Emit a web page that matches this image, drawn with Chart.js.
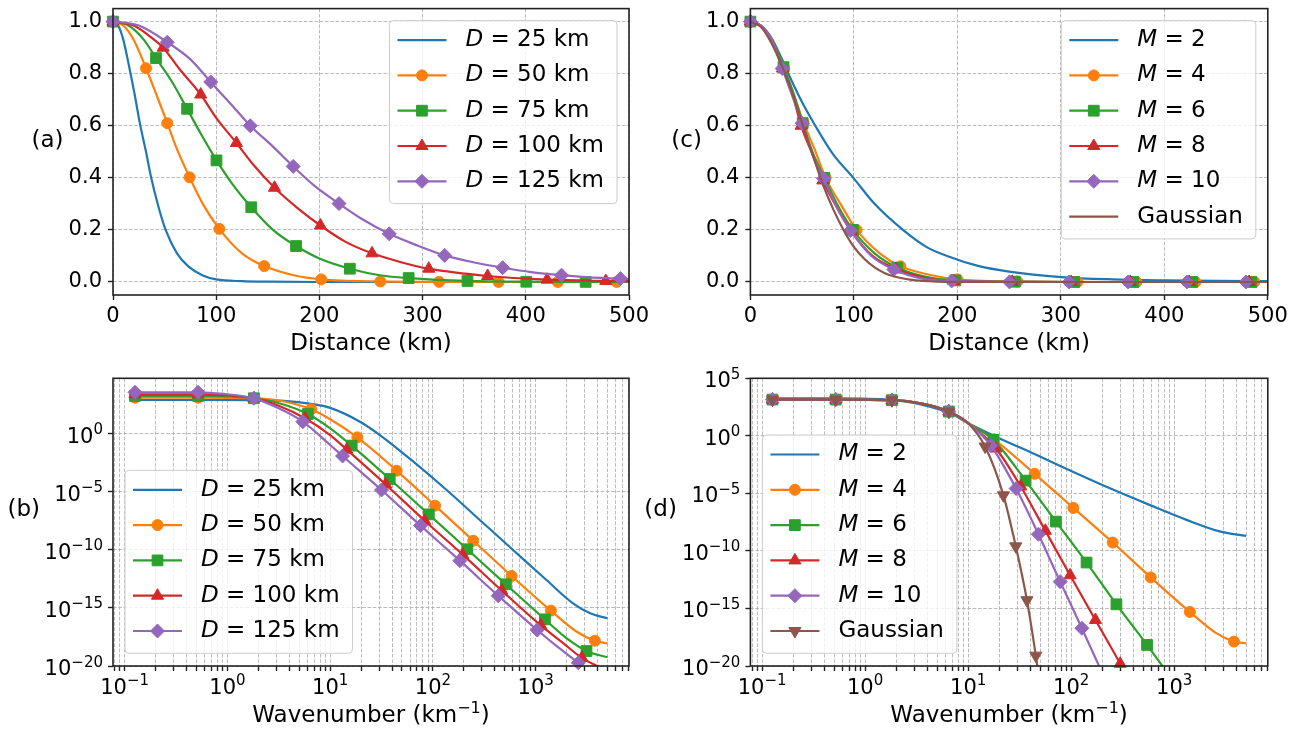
<!DOCTYPE html>
<html><head><meta charset="utf-8">
<script src="https://cdn.jsdelivr.net/npm/chart.js@4.4.1/dist/chart.umd.min.js"></script>
<style>
html,body{margin:0;padding:0;background:#fff;}
body{width:1298px;height:731px;position:relative;overflow:hidden;}
canvas{position:absolute;}
</style></head>
<body>
<canvas id="ca" width="650" height="365" style="left:0;top:0"></canvas>
<canvas id="cc" width="668" height="365" style="left:630px;top:0"></canvas>
<canvas id="cb" width="650" height="366" style="left:0;top:365px"></canvas>
<canvas id="cd" width="668" height="366" style="left:630px;top:365px"></canvas>
<script>
// ---------------- DATA ----------------
// (a) correlation vs distance for several D (M = 4)
const aX_D25 = [0,5,10,16,21,26,32,37,44,51,62,73,87,100,125,150,200,300,400,500];
const aY_D25 = [1,0.985,0.93,0.82,0.72,0.61,0.50,0.40,0.29,0.20,0.11,0.06,0.025,0.01,0.003,0.001,0,0,0,0];
const aX_D50 = [0,10,20,32,42,52.6,62,74.2,87,103,125,146.5,175,201.8,259,316,373.6,431,488,500];
const aY_D50 = [1,0.985,0.93,0.821,0.72,0.61,0.51,0.402,0.30,0.204,0.11,0.061,0.026,0.01,0.002,0.0005,0,0,0,0];
const aMk_D50 = [0,3,5,7,9,11,13,14,15,16,17,18];
const aX_D75 = [0,15,30,41.7,57,71.8,85,100.3,115,134,155,177.4,200,229.5,260,286.5,343.5,400.5,458,500];
const aY_D75 = [1,0.985,0.93,0.86,0.77,0.665,0.57,0.467,0.38,0.287,0.2,0.138,0.09,0.051,0.025,0.015,0.004,0.001,0.0003,0];
const aMk_D75 = [0,3,5,7,9,11,13,15,16,17,18];
const aX_D100 = [0,20,40,48.6,64,85,100,119.6,136,156.5,180,201,225,251,280,306,363,420.6,477.5,500];
const aY_D100 = [1,0.985,0.93,0.90,0.82,0.72,0.63,0.534,0.45,0.362,0.28,0.217,0.155,0.11,0.075,0.051,0.023,0.009,0.004,0.003];
const aMk_D100 = [0,3,5,7,9,11,13,15,16,17,18];
const aX_D125 = [0,25,52.6,75,94.7,115,133,155,174.6,195,219,240,267.7,295,321.4,350,377.6,405,434.6,462,491.6,500];
const aY_D125 = [1,0.985,0.921,0.855,0.768,0.68,0.60,0.52,0.444,0.37,0.301,0.245,0.185,0.14,0.102,0.075,0.055,0.038,0.026,0.018,0.013,0.011];
const aMk_D125 = [0,2,4,6,8,10,12,14,16,18,20];

// (c) correlation vs distance for several M
const cX_M2 = [0,10,20,30,36.7,50,62.7,80,99.5,120,147.4,170,190,220,250,300,350,400,450,500];
const cY_M2 = [1,0.985,0.94,0.86,0.80,0.69,0.60,0.49,0.40,0.30,0.20,0.135,0.10,0.062,0.04,0.019,0.01,0.006,0.004,0.003];
const cX_M4 = [0,10,20,32.7,42,51.5,62,72.7,87,102.6,125,145,175,200,258,316,373,430,487,500];
const cY_M4 = [1,0.985,0.93,0.82,0.72,0.61,0.51,0.40,0.30,0.20,0.11,0.06,0.026,0.01,0.002,0.0005,0,0,0,0];
const cMk_M4 = [0,3,5,7,9,11,13,14,15,16,17,18];
const cX_M6 = [0,10,20,32,42,50.5,60,71.5,85,99,120,142,170,198,255.5,313,370,427,484,500];
const cY_M6 = [1,0.985,0.935,0.825,0.72,0.61,0.50,0.40,0.29,0.20,0.11,0.055,0.02,0.006,0.001,0,0,0,0,0];
const cMk_M6 = [0,3,5,7,9,11,13,14,15,16,17,18];
const cX_M8 = [0,10,20,31,40,49,60,70,83,97.5,118,140.6,168,196.5,253,310,367,424,482,500];
const cY_M8 = [1,0.985,0.935,0.82,0.73,0.60,0.49,0.39,0.29,0.195,0.10,0.05,0.016,0.004,0.0005,0,0,0,0,0];
const cMk_M8 = [0,3,5,7,9,11,13,14,15,16,17,18];
const cX_M10 = [0,10,20,30.8,40,50,60,70.7,83,96.7,117,138.6,165,194.5,250.4,308,365,422,479,500];
const cY_M10 = [1,0.985,0.935,0.82,0.72,0.61,0.49,0.397,0.29,0.198,0.10,0.048,0.014,0.004,0.0004,0,0,0,0,0];
const cMk_M10 = [0,3,5,7,9,11,13,14,15,16,17,18];
const cX_G = [0,10,20,31,40,50,60,70,80,90,100,110,120,130,140,160,180,200,250,500];
const cY_G = [1,0.98,0.92,0.825,0.73,0.61,0.49,0.375,0.28,0.2,0.135,0.089,0.056,0.034,0.02,0.006,0.0015,0.0003,0,0];

// (b) spectra vs wavenumber for several D
const bK_D25 = [0.126,0.518,1.81,3.55,6.53,10,19.5,30.5,64.6,136,286,603,1274,2312,3388,5000];
const bS_D25 = [851,851,832,724,398,178,11.5,0.813,4.07e-3,1.48e-5,3.89e-8,1e-10,2.57e-13,2.51e-15,3.47e-16,1.29e-16];
const bK_D50 = [0.126,0.518,1.81,3.39,6.53,10,18.4,44.4,105,247,583,1406,2512,3767,5000];
const bS_D50 = [1349,1349,1202,692,135,18.6,0.513,6.92e-4,6.61e-7,6.31e-10,5.75e-13,5.89e-16,8.91e-18,1.51e-18,8.91e-19];
const bMk_D50 = [0,1,2,4,6,7,8,9,10,11,13];
const bK_D75 = [0.126,0.518,1.81,3.39,6.05,10,16.2,38.0,91.2,216,513,1230,1995,3126,5000];
const bS_D75 = [1905,1905,1202,389,52.5,3.09,0.1,1.32e-4,1.17e-7,1.15e-10,1.10e-13,1.05e-16,2.51e-18,1.95e-19,5.62e-20];
const bMk_D75 = [0,1,2,4,6,7,8,9,10,11,13];
const bK_D100 = [0.126,0.518,1.81,3.16,5.69,10,14.5,34.7,83.2,195,468,1122,1778,2818,3981,5000];
const bS_D100 = [2630,2630,1202,275,22.4,0.794,4.47e-2,4.47e-5,3.31e-8,3.98e-11,3.16e-14,3.16e-17,1.26e-18,5.01e-20,1e-20,5.01e-21];
const bMk_D100 = [0,1,2,4,6,7,8,9,10,11,13];
const bK_D125 = [0.126,0.518,0.912,1.81,3.16,5.42,10,13.2,31.6,75.9,183,432,1035,1660,2600,3162];
const bS_D125 = [3890,3890,2818,1175,162,11.5,0.112,1.26e-2,1.48e-5,1.26e-8,1.20e-11,1.15e-14,1.26e-17,3.98e-19,1.91e-20,5.01e-21];
const bMk_D125 = [0,1,3,5,7,8,9,10,11,12,14];

// (d) spectra vs wavenumber for several M
const dK_M2 = [0.126,0.518,1.82,3.55,6.5,10,20,44.7,100,275,575,1318,2754,5000];
const dS_M2 = [1778,1778,1318,501,105,12.6,0.631,2.51e-2,8.91e-4,1.58e-5,1e-6,5.01e-8,5.01e-9,2.0e-9];
const dK_M4 = [0.126,0.518,1.82,3.55,6.5,10,17.8,44.2,105,253,592,1419,2512,3802,5000];
const dS_M4 = [1413,1413,1259,631,129,12.6,0.501,5.01e-4,5.50e-7,5.37e-10,5.01e-13,5.01e-16,7.94e-18,1.32e-18,9.33e-19];
const dMk_M4 = [0,1,2,4,6,7,8,9,10,11,13];
const dK_M6 = [0.126,0.518,1.82,3.55,6.5,10,17.6,36.1,71.1,141,275,545,776];
const dS_M6 = [1413,1413,1259,631,129,12.6,0.447,1.29e-4,3.55e-8,9.77e-12,2.29e-15,6.76e-19,8.91e-21];
const dMk_M6 = [0,1,2,4,6,7,8,9,10,11];
const dK_M8 = [0.126,0.518,1.82,3.55,6.5,10,18.6,32.4,56.2,97.7,172,299,316];
const dS_M8 = [1413,1413,1259,631,129,12.6,7.94e-2,3.98e-5,5.62e-9,7.59e-13,1e-16,1.58e-20,6.31e-21];
const dMk_M8 = [0,1,2,4,6,7,8,9,10,11];
const dK_M10 = [0.126,0.518,1.82,3.55,6.5,10,16.6,29.2,48.1,78.2,127,191];
const dS_M10 = [1413,1413,1259,631,129,12.6,0.145,2.63e-5,2.82e-9,2.14e-13,1.91e-17,6.31e-21];
const dMk_M10 = [0,1,2,4,6,7,8,9,10];
const dK_G = [0.126,0.518,1.82,3.55,6.5,10,14.6,22.0,29.0,37.2,45.4,47.3];
const dS_G = [1413,1413,1259,631,129,12.6,0.117,6.76e-6,2.51e-10,5.25e-15,7.94e-20,6.31e-21];
const dMk_G = [0,1,2,4,6,7,8,9,10];

// ticks
const linXTicks = [0,100,200,300,400,500];
const linXLabels = ['0','100','200','300','400','500'];
const linYTicks = [0,0.2,0.4,0.6,0.8,1.0];
const linYLabels = ['0.0','0.2','0.4','0.6','0.8','1.0'];
const logXTicks = [0.1,1,10,100,1000];
const logXExps = ['\u22121','0','1','2','3'];
const bYTicks = [1e-20,1e-15,1e-10,1e-5,1];
const bYExps = ['\u221220','\u221215','\u221210','\u22125','0'];
const dYTicks = [1e-20,1e-15,1e-10,1e-5,1,1e5];
const dYExps = ['\u221220','\u221215','\u221210','\u22125','0','5'];

// ---------------- STYLE ----------------
const FONT = '"DejaVu Sans"';
const C = {blue:'#1f77b4',orange:'#ff7f0e',green:'#2ca02c',red:'#d62728',purple:'#9467bd',brown:'#8c564b'};
const MK = {
  circle:{style:'circle',r:5.5,rot:0},
  square:{style:'rect',r:7.6,rot:0},
  tri:{style:'triangle',r:7,rot:0},
  diamond:{style:'rectRot',r:7,rot:0},
  tridown:{style:'triangle',r:7,rot:180}
};
Chart.defaults.font.family = 'DejaVu Sans';

function buildDatasets(series){
  const ds=[]; let pos=0;
  series.forEach(s=>{
    const pts = s.x.map((x,i)=>({x:x,y:s.y[i]}));
    ds.push({data:pts, showLine:true, borderColor:s.color, backgroundColor:s.color, borderWidth:2.2,
      pointRadius:0, pointHoverRadius:0, pointHitRadius:0, cubicInterpolationMode:'monotone', fill:false, order:1000-(pos++)});
    if (s.marks && s.marker){
      ds.push({data:s.marks.map(i=>({x:pts[i].x,y:pts[i].y})), showLine:false,
        pointStyle:s.marker.style, pointRadius:s.marker.r, pointRotation:s.marker.rot, pointHoverRadius:s.marker.r,
        pointBackgroundColor:s.color, pointBorderColor:s.color, pointBorderWidth:1, clip:false, order:1000-(pos++)});
    }
  });
  return ds;
}

function findLabel(ticks, labels, v){
  for (let i=0;i<ticks.length;i++){ if (Math.abs(ticks[i]-v) <= Math.abs(ticks[i])*1e-9 || ticks[i]===v) return labels[i]; }
  return '';
}

function scaleCfg(type,min,max,ticks,labels,allTicks,isX,fitSize){
  return {
    type:type, min:min, max:max, position: isX?'bottom':'left',
    afterBuildTicks: s => { s.ticks = allTicks.map(v=>({value:v})); },
    afterFit: s => { if (isX) s.height = fitSize; else s.width = fitSize;
      s.paddingLeft=0; s.paddingRight=0; s.paddingTop=0; s.paddingBottom=0; },
    ticks:{autoSkip:false, maxRotation:0, minRotation:0, padding: isX?4:6, color:'#000',
      font:{family:'DejaVu Sans', size:21},
      callback: v => labels ? findLabel(ticks, labels, v) : ''},
    grid:{color:'rgba(176,176,176,0.85)', lineWidth:1, drawTicks:true, tickLength:5, tickColor:'#222', tickWidth:1.4},
    border:{display:false, dash:[3.7,1.6]}
  };
}

function logMinor(min,max){
  const out=[];
  [0.01,0.1,1,10,100,1000].forEach(b=>{ for(let m=1;m<=9;m++){ const v=+(m*b).toPrecision(6); if(v>=min && v<=max) out.push(v);} });
  return out;
}

function drawMarker(ctx, m, x, y, color){
  ctx.save();
  ctx.fillStyle=color; ctx.strokeStyle=color; ctx.lineWidth=1;
  if (Chart.helpers && Chart.helpers.drawPoint){
    Chart.helpers.drawPoint(ctx,{pointStyle:m.style, radius:m.r, rotation:m.rot, borderWidth:1},x,y);
  } else { ctx.beginPath(); ctx.arc(x,y,m.r,0,Math.PI*2); ctx.fill(); }
  ctx.restore();
}

// text with superscript parts: parts = [[text, size, rise], ...]
function partsWidth(ctx, parts){
  let w=0; parts.forEach(p=>{ ctx.font=`${p[1]}px ${FONT}`; w+=ctx.measureText(p[0]).width; }); return w;
}
function drawParts(ctx, parts, x, baseY){
  let tx=x; ctx.textAlign='left'; ctx.textBaseline='alphabetic';
  parts.forEach(p=>{ ctx.font=`${p[1]}px ${FONT}`; ctx.fillText(p[0], tx, baseY - p[2]); tx+=ctx.measureText(p[0]).width; });
}
function powParts(e){ return [['10',21,0],[e,15,8.5]]; }

const deco = {
  id:'deco',
  afterDatasetsDraw(chart){
    const ca = chart.chartArea; const ctx = chart.ctx;
    ctx.save(); ctx.strokeStyle='#222'; ctx.lineWidth=1.6;
    ctx.strokeRect(ca.left, ca.top, ca.right-ca.left, ca.bottom-ca.top); ctx.restore();
  },
  afterDraw(chart){
    const o = chart.options.plugins.deco; const ca = chart.chartArea; const ctx = chart.ctx;
    ctx.save();
    ctx.fillStyle='#000';
    // log tick labels (mathtext style)
    if (o.logX){
      const sx = chart.scales.x;
      o.logX.ticks.forEach((v,i)=>{ const parts=powParts(o.logX.exps[i]); const w=partsWidth(ctx,parts);
        drawParts(ctx, parts, sx.getPixelForValue(v)-w/2, ca.bottom+27.5); });
    }
    if (o.logY){
      const sy = chart.scales.y;
      o.logY.ticks.forEach((v,i)=>{ const parts=powParts(o.logY.exps[i]); const w=partsWidth(ctx,parts);
        drawParts(ctx, parts, ca.left-10-w, sy.getPixelForValue(v)+9); });
    }
    // panel label
    ctx.font = `23px ${FONT}`; ctx.textAlign='center'; ctx.textBaseline='middle';
    ctx.fillText(o.panel, o.panelX, o.panelY);
    // x title
    const tw = partsWidth(ctx, o.title);
    drawParts(ctx, o.title, (ca.left+ca.right)/2 - tw/2, o.titleY);
    // legend
    const series=o.series;
    let maxW=0;
    series.forEach(s=>{ let w=0; ctx.font=`italic 23px ${FONT}`; if(s.lab[0]) w+=ctx.measureText(s.lab[0]).width;
      ctx.font=`23px ${FONT}`; w+=ctx.measureText(s.lab[1]).width; maxW=Math.max(maxW,w); });
    const bw = 76+maxW+13, bh = series.length*35.3+6.5;
    let bx, by;
    if (o.corner==='tr'){ bx = ca.right-12-bw; by = ca.top+12; } else { bx = ca.left+12; by = ca.bottom-12.7-bh; }
    ctx.beginPath(); ctx.roundRect(bx,by,bw,bh,4);
    ctx.fillStyle='rgba(255,255,255,0.8)'; ctx.fill();
    ctx.strokeStyle='#cccccc'; ctx.lineWidth=1; ctx.stroke();
    series.forEach((s,i)=>{
      const cy = by+19.5+i*35.3;
      ctx.strokeStyle=s.color; ctx.lineWidth=2.2; ctx.beginPath(); ctx.moveTo(bx+8,cy); ctx.lineTo(bx+57,cy); ctx.stroke();
      if (s.marker) drawMarker(ctx, s.marker, bx+32.5, cy, s.color);
      let tx=bx+76; ctx.fillStyle='#000'; ctx.textAlign='left'; ctx.textBaseline='middle';
      if (s.lab[0]){ ctx.font=`italic 23px ${FONT}`; ctx.fillText(s.lab[0],tx,cy); tx+=ctx.measureText(s.lab[0]).width; }
      ctx.font=`23px ${FONT}`; ctx.fillText(s.lab[1],tx,cy);
    });
    ctx.restore();
  }
};

function makePanel(id, g, series, xs, ys, decoOpts){
  const cv=document.getElementById(id);
  decoOpts.series = series;
  new Chart(cv,{
    type:'scatter',
    data:{datasets:buildDatasets(series)},
    options:{
      responsive:false, animation:false, devicePixelRatio:1, events:[],
      layout:{padding:{left:0, top:g.top, right:g.w-g.right, bottom:0}},
      plugins:{legend:{display:false}, tooltip:{enabled:false}, deco:decoOpts},
      scales:{x:xs, y:ys}
    },
    plugins:[deco]
  });
}

// geometry (chart areas inside each canvas)
const gA={w:650,h:365,left:113,right:629,top:8.3,bottom:295};
const gC={w:668,h:365,left:120.4,right:637.8,top:8.3,bottom:295};
const gB={w:650,h:366,left:113,right:629,top:13.3,bottom:301};
const gD={w:668,h:366,left:120.4,right:637.8,top:13.3,bottom:301};

const seriesA=[
  {lab:['D',' = 25 km'], color:C.blue, x:aX_D25, y:aY_D25},
  {lab:['D',' = 50 km'], color:C.orange, x:aX_D50, y:aY_D50, marks:aMk_D50, marker:MK.circle},
  {lab:['D',' = 75 km'], color:C.green, x:aX_D75, y:aY_D75, marks:aMk_D75, marker:MK.square},
  {lab:['D',' = 100 km'], color:C.red, x:aX_D100, y:aY_D100, marks:aMk_D100, marker:MK.tri},
  {lab:['D',' = 125 km'], color:C.purple, x:aX_D125, y:aY_D125, marks:aMk_D125, marker:MK.diamond}
];
const seriesC=[
  {lab:['M',' = 2'], color:C.blue, x:cX_M2, y:cY_M2},
  {lab:['M',' = 4'], color:C.orange, x:cX_M4, y:cY_M4, marks:cMk_M4, marker:MK.circle},
  {lab:['M',' = 6'], color:C.green, x:cX_M6, y:cY_M6, marks:cMk_M6, marker:MK.square},
  {lab:['M',' = 8'], color:C.red, x:cX_M8, y:cY_M8, marks:cMk_M8, marker:MK.tri},
  {lab:['M',' = 10'], color:C.purple, x:cX_M10, y:cY_M10, marks:cMk_M10, marker:MK.diamond},
  {lab:['','Gaussian'], color:C.brown, x:cX_G, y:cY_G}
];
const seriesB=[
  {lab:['D',' = 25 km'], color:C.blue, x:bK_D25, y:bS_D25},
  {lab:['D',' = 50 km'], color:C.orange, x:bK_D50, y:bS_D50, marks:bMk_D50, marker:MK.circle},
  {lab:['D',' = 75 km'], color:C.green, x:bK_D75, y:bS_D75, marks:bMk_D75, marker:MK.square},
  {lab:['D',' = 100 km'], color:C.red, x:bK_D100, y:bS_D100, marks:bMk_D100, marker:MK.tri},
  {lab:['D',' = 125 km'], color:C.purple, x:bK_D125, y:bS_D125, marks:bMk_D125, marker:MK.diamond}
];
const seriesD=[
  {lab:['M',' = 2'], color:C.blue, x:dK_M2, y:dS_M2},
  {lab:['M',' = 4'], color:C.orange, x:dK_M4, y:dS_M4, marks:dMk_M4, marker:MK.circle},
  {lab:['M',' = 6'], color:C.green, x:dK_M6, y:dS_M6, marks:dMk_M6, marker:MK.square},
  {lab:['M',' = 8'], color:C.red, x:dK_M8, y:dS_M8, marks:dMk_M8, marker:MK.tri},
  {lab:['M',' = 10'], color:C.purple, x:dK_M10, y:dS_M10, marks:dMk_M10, marker:MK.diamond},
  {lab:['','Gaussian'], color:C.brown, x:dK_G, y:dS_G, marks:dMk_G, marker:MK.tridown}
];

const LX_MIN=0.077, LX_MAX=8100;
const logAll = logMinor(LX_MIN,LX_MAX);
const TITLE_DIST = [['Distance (km)',23,0]];
const TITLE_WAVE = [['Wavenumber (km',23,0],['\u22121',16,9],[')',23,0]];

makePanel('ca', gA, seriesA,
  scaleCfg('linear',0,500,linXTicks,linXLabels,linXTicks,true,gA.h-gA.bottom),
  scaleCfg('linear',-0.05,1.05,linYTicks,linYLabels,linYTicks,false,gA.left),
  {panel:'(a)', panelX:47.5, panelY:141, title:TITLE_DIST, titleY:349.5, corner:'tr'});
makePanel('cc', gC, seriesC,
  scaleCfg('linear',0,500,linXTicks,linXLabels,linXTicks,true,gC.h-gC.bottom),
  scaleCfg('linear',-0.05,1.05,linYTicks,linYLabels,linYTicks,false,gC.left),
  {panel:'(c)', panelX:56.6, panelY:141, title:TITLE_DIST, titleY:349.5, corner:'tr'});
makePanel('cb', gB, seriesB,
  scaleCfg('logarithmic',LX_MIN,LX_MAX,logXTicks,null,logAll,true,gB.h-gB.bottom),
  scaleCfg('logarithmic',1e-20,6.3e4,bYTicks,null,bYTicks,false,gB.left),
  {panel:'(b)', panelX:23.8, panelY:145, title:TITLE_WAVE, titleY:357, corner:'bl',
   logX:{ticks:logXTicks, exps:logXExps}, logY:{ticks:bYTicks, exps:bYExps}});
makePanel('cd', gD, seriesD,
  scaleCfg('logarithmic',LX_MIN,LX_MAX,logXTicks,null,logAll,true,gD.h-gD.bottom),
  scaleCfg('logarithmic',1e-20,1e5,dYTicks,null,dYTicks,false,gD.left),
  {panel:'(d)', panelX:30.6, panelY:145, title:TITLE_WAVE, titleY:357, corner:'bl',
   logX:{ticks:logXTicks, exps:logXExps}, logY:{ticks:dYTicks, exps:dYExps}});
</script>
</body></html>
